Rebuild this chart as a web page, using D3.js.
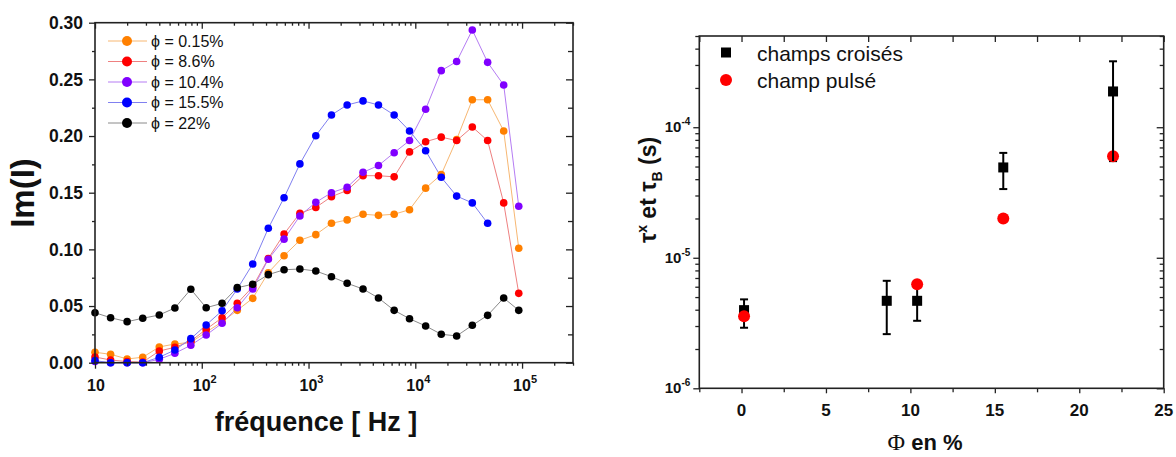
<!DOCTYPE html>
<html><head><meta charset="utf-8">
<script src="https://cdn.jsdelivr.net/npm/d3@7"></script>
<style>
html,body{margin:0;padding:0;background:#fff;}
svg{display:block;font-family:Arial,"Liberation Sans",sans-serif;}
</style></head>
<body><svg id="c" width="1176" height="457"></svg>
<script>
// ---------- Left chart data ----------
const freq = [10,14,20,28,40,56,79,110,155,215,300,420,590,830,1170,1640,2300,3240,4520,6340,8830,12500,17500,24400,34200,47600,67300,93100];
const im015 = [0.0092,0.0074,0.0033,0.0048,0.0139,0.0165,0.018,0.027,0.036,0.0462,0.0568,0.0794,0.0944,0.108,0.113,0.123,0.126,0.131,0.130,0.131,0.135,0.154,0.166,0.197,0.232,0.232,0.2045,0.101];
const im86 = [0.005,0.0024,0.001,0.0005,0.0103,0.0136,0.019,0.0295,0.0397,0.0524,0.067,0.092,0.1136,0.1318,0.137,0.1465,0.152,0.165,0.165,0.164,0.186,0.195,0.199,0.196,0.208,0.196,0.141,0.0612];
const im104 = [0.001,0,0,0,0.003,0.0083,0.0154,0.0244,0.0348,0.0485,0.065,0.0913,0.109,0.1295,0.1415,0.150,0.1548,0.168,0.174,0.1853,0.196,0.2236,0.2577,0.2657,0.2936,0.265,0.245,0.138];
const im155 = [0.0018,0,0,0,0.0048,0.0112,0.0212,0.0333,0.0459,0.065,0.0871,0.1186,0.1456,0.1754,0.2003,0.2186,0.2274,0.231,0.2274,0.2186,0.2045,0.187,0.1636,0.147,0.141,0.123];
const im22 = [0.0441,0.0397,0.0362,0.0392,0.0421,0.0483,0.0648,0.0485,0.0524,0.0662,0.0692,0.0777,0.082,0.0827,0.0809,0.0759,0.0701,0.065,0.0571,0.0462,0.0388,0.0324,0.0251,0.0236,0.033,0.0418,0.0571,0.0462];
const seriesNames = ["\u03d5 = 0.15%","\u03d5 = 8.6%","\u03d5 = 10.4%","\u03d5 = 15.5%","\u03d5 = 22%"];
const yTicksLeft = [0,0.05,0.10,0.15,0.20,0.25,0.30];
const xTicksLeft = [10,100,1000,10000,100000];

// ---------- Right chart data ----------
const phiCross = [0.15,8.6,10.4,15.5,22];
const tauCross = [3.97e-6,4.68e-6,4.68e-6,4.92e-5,1.88e-4];
const tauCrossLo = [2.91e-6,2.60e-6,3.29e-6,3.36e-5,5.5e-5];
const tauCrossHi = [4.80e-6,6.66e-6,5.99e-6,6.36e-5,3.2e-4];
const phiPulse = [0.15,10.4,15.5,22];
const tauPulse = [3.57e-6,6.28e-6,2.0e-5,6.0e-5];
const xTicksRight = [0,5,10,15,20,25];
const yTicksRight = [1e-6,1e-5,1e-4];
const legendRight = ["champs crois\u00e9s","champ puls\u00e9"];

const svg = d3.select("#c");
const AX = "#222";

// ================= LEFT =================
const L = {x0:95, x1:573, y0:22.7, y1:362.7};
const xL = d3.scaleLog().domain([10,3e5]).range([L.x0,L.x1]);
const yL = d3.scaleLinear().domain([0,0.3]).range([L.y1,L.y0]);

const series = [
  {v:im015, fill:"#ff8000", line:"#f7b772"},
  {v:im86,  fill:"#ff0000", line:"#ee8080"},
  {v:im104, fill:"#8000ff", line:"#b57cf3"},
  {v:im155, fill:"#0000ff", line:"#8080f0"},
  {v:im22,  fill:"#000000", line:"#8a8a8a"}
];
const gL = svg.append("g");
series.forEach(s=>{
  const pts = s.v.map((d,i)=>[freq[i],d]);
  gL.append("path").datum(pts)
    .attr("d", d3.line().x(d=>xL(d[0])).y(d=>yL(d[1])))
    .attr("fill","none").attr("stroke",s.line).attr("stroke-width",1);
});
series.forEach(s=>{
  const pts = s.v.map((d,i)=>[freq[i],d]);
  gL.selectAll(null).data(pts).enter().append("circle")
    .attr("cx",d=>xL(d[0])).attr("cy",d=>yL(d[1])).attr("r",3.8)
    .attr("fill",s.fill);
});

const minorLog = [];
for (let e=1;e<=5;e++) for (let m=2;m<=9;m++){const v=m*Math.pow(10,e); if(v<=3e5) minorLog.push(v);}
function ax(g, gen, tr){ g.append("g").attr("transform",tr).call(gen).call(s=>s.select(".domain").remove()); }
ax(svg, d3.axisBottom(xL).tickValues(xTicksLeft).tickSize(6).tickFormat(""), `translate(0,${L.y1})`);
ax(svg, d3.axisBottom(xL).tickValues(minorLog).tickSize(3).tickFormat(""), `translate(0,${L.y1})`);
ax(svg, d3.axisBottom(xL).tickValues(xTicksLeft).tickSize(6).tickFormat(""), `translate(0,${L.y0})`);
ax(svg, d3.axisBottom(xL).tickValues(minorLog).tickSize(3).tickFormat(""), `translate(0,${L.y0})`);
const minorLin = d3.range(0.025,0.3,0.05);
ax(svg, d3.axisLeft(yL).tickValues(yTicksLeft).tickSize(6).tickFormat(""), `translate(${L.x0},0)`);
ax(svg, d3.axisLeft(yL).tickValues(minorLin).tickSize(3).tickFormat(""), `translate(${L.x0},0)`);
ax(svg, d3.axisLeft(yL).tickValues(yTicksLeft).tickSize(7).tickFormat(""), `translate(${L.x1},0)`);
ax(svg, d3.axisLeft(yL).tickValues(minorLin).tickSize(5).tickFormat(""), `translate(${L.x1},0)`);
svg.append("rect").attr("x",L.x0).attr("y",L.y0).attr("width",L.x1-L.x0).attr("height",L.y1-L.y0)
  .attr("fill","none").attr("stroke",AX).attr("stroke-width",1.6);

svg.append("g").selectAll("text").data(yTicksLeft).enter().append("text")
  .attr("x",L.x0-12).attr("y",d=>yL(d)).attr("dy","0.36em")
  .attr("text-anchor","end").attr("font-weight","bold").attr("font-size",17.5)
  .attr("fill","#111").text(d=>d.toFixed(2));
const xl = svg.append("g").selectAll("text").data(xTicksLeft).enter().append("text")
  .attr("x",d=>xL(d)+(d===10?1:3)).attr("y",L.y1+28)
  .attr("text-anchor","middle").attr("font-weight","bold").attr("font-size",16).attr("fill","#111");
xl.append("tspan").text("10");
xl.filter(d=>d>10).append("tspan").attr("dy",-8).attr("font-size",11).text(d=>Math.round(Math.log10(d)));

svg.append("text").attr("x",316).attr("y",431).attr("text-anchor","middle")
  .attr("font-weight","bold").attr("font-size",27).attr("fill","#111").text("fr\u00e9quence [ Hz ]");
svg.append("text").attr("transform","translate(34,193) rotate(-90)").attr("text-anchor","middle")
  .attr("font-weight","bold").attr("font-size",33).attr("fill","#111").text("Im(I)");

const lg = svg.append("g");
seriesNames.forEach((n,i)=>{
  const y = 41 + i*20.5;
  lg.append("line").attr("x1",108).attr("x2",147).attr("y1",y).attr("y2",y)
    .attr("stroke",series[i].line).attr("stroke-width",1);
  lg.append("circle").attr("cx",127).attr("cy",y).attr("r",5).attr("fill",series[i].fill);
  lg.append("text").attr("x",151).attr("y",y).attr("dy","0.36em").attr("font-size",16)
    .attr("fill","#111").text(n);
});

// ================= RIGHT =================
const R = {x0:699.3, x1:1163.7, y0:36, y1:388.3};
const xR = d3.scaleLinear().domain([-2.5,25]).range([R.x0,R.x1]);
const yR = d3.scaleLog().domain([1e-6,5e-4]).range([R.y1,R.y0]);
const minorX = d3.range(-2.5,25,2.5).filter(v=>v%5!==0);
const minorY = [];
for (let e=-6;e<=-4;e++) for (let m=2;m<=9;m++){const v=m*Math.pow(10,e); if(v<=5e-4) minorY.push(v);}

const gR = svg.append("g");
ax(gR, d3.axisBottom(xR).tickValues(xTicksRight).tickSize(5).tickFormat(""), `translate(0,${R.y1})`);
ax(gR, d3.axisBottom(xR).tickValues(minorX).tickSize(4).tickFormat(""), `translate(0,${R.y1})`);
ax(gR, d3.axisBottom(xR).tickValues(xTicksRight.concat(minorX)).tickSize(6).tickFormat(""), `translate(0,${R.y0})`);
ax(gR, d3.axisLeft(yR).tickValues(yTicksRight).tickSize(6).tickFormat(""), `translate(${R.x0},0)`);
ax(gR, d3.axisLeft(yR).tickValues(minorY).tickSize(4).tickFormat(""), `translate(${R.x0},0)`);
ax(gR, d3.axisLeft(yR).tickValues(yTicksRight).tickSize(7).tickFormat(""), `translate(${R.x1},0)`);
ax(gR, d3.axisLeft(yR).tickValues(minorY).tickSize(4).tickFormat(""), `translate(${R.x1},0)`);
gR.append("rect").attr("x",R.x0).attr("y",R.y0).attr("width",R.x1-R.x0).attr("height",R.y1-R.y0)
  .attr("fill","none").attr("stroke",AX).attr("stroke-width",1.6);
svg.selectAll(".tick line").attr("stroke",AX).attr("stroke-width",1.3);

gR.append("g").selectAll("text").data(xTicksRight).enter().append("text")
  .attr("x",d=>xR(d)).attr("y",R.y1+28).attr("text-anchor","middle")
  .attr("font-weight","bold").attr("font-size",17).attr("fill","#111").text(d=>d);
const yl = gR.append("g").selectAll("text").data(yTicksRight).enter().append("text")
  .attr("x",R.x0-9).attr("y",d=>yR(d)+5).attr("text-anchor","end")
  .attr("font-weight","bold").attr("font-size",15).attr("fill","#111");
yl.append("tspan").text("10");
yl.append("tspan").attr("dy",-7).attr("font-size",10).text(d=>"-"+Math.round(-Math.log10(d)));

const eb = gR.append("g").attr("stroke","#000").attr("stroke-width",2);
phiCross.forEach((p,i)=>{
  eb.append("line").attr("x1",xR(p)).attr("x2",xR(p)).attr("y1",yR(tauCrossLo[i])).attr("y2",yR(tauCrossHi[i]));
  [tauCrossLo[i],tauCrossHi[i]].forEach(v=>{
    eb.append("line").attr("x1",xR(p)-4).attr("x2",xR(p)+4).attr("y1",yR(v)).attr("y2",yR(v));
  });
});
gR.append("g").selectAll("rect").data(phiCross.map((p,i)=>[p,tauCross[i]])).enter().append("rect")
  .attr("x",d=>xR(d[0])-5).attr("y",d=>yR(d[1])-5).attr("width",10).attr("height",10).attr("fill","#000");
gR.append("g").selectAll("circle").data(phiPulse.map((p,i)=>[p,tauPulse[i]])).enter().append("circle")
  .attr("cx",d=>xR(d[0])).attr("cy",d=>yR(d[1])).attr("r",6).attr("fill","#ff0000");
phiCross.forEach((p,i)=>{
  if (p===22) gR.append("line").attr("x1",xR(p)).attr("x2",xR(p)).attr("y1",yR(tauCrossLo[i])).attr("y2",yR(tauCross[i])).attr("stroke","#000").attr("stroke-width",2);
});

gR.append("rect").attr("x",721).attr("y",47.5).attr("width",10).attr("height",10).attr("fill","#000");
gR.append("circle").attr("cx",726).attr("cy",80).attr("r",6).attr("fill","#ff0000");
gR.append("text").attr("x",757).attr("y",53).attr("dy","0.36em").attr("font-size",21).attr("fill","#111").text(legendRight[0]);
gR.append("text").attr("x",757).attr("y",80).attr("dy","0.36em").attr("font-size",21).attr("fill","#111").text(legendRight[1]);

const xt = gR.append("text").attr("x",925).attr("y",450).attr("text-anchor","middle")
  .attr("font-weight","bold").attr("font-size",22).attr("fill","#111");
xt.append("tspan").attr("font-family","'Liberation Serif','DejaVu Serif',serif").attr("font-weight","normal").attr("font-size",24).text("\u03a6");
xt.append("tspan").text(" en %");
const yt = gR.append("text").attr("transform","translate(656,190) rotate(-90)").attr("text-anchor","middle")
  .attr("font-weight","bold").attr("font-size",23).attr("fill","#111");
yt.append("tspan").text("\u03c4");
yt.append("tspan").attr("dy",-9).attr("font-size",14).text("x");
yt.append("tspan").attr("dy",9).text(" et \u03c4");
yt.append("tspan").attr("dy",6).attr("font-size",14).text("B");
yt.append("tspan").attr("dy",-6).text(" (s)");
</script></body></html>
